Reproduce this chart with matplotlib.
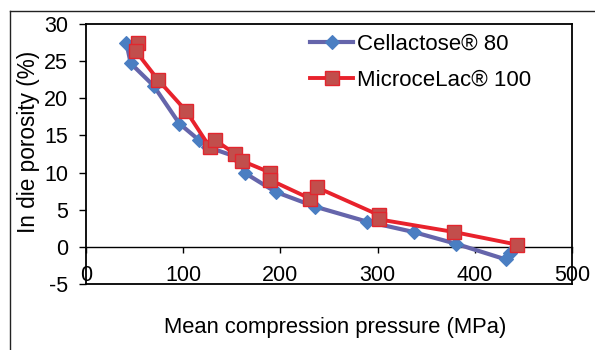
import matplotlib
matplotlib.use("Agg")
import matplotlib.pyplot as plt
from matplotlib.lines import Line2D

plt.rcParams['font.family'] = ['Liberation Sans', 'DejaVu Sans']

# Data
cell_x = [41.5, 46, 69.5, 96, 116, 126, 155, 164, 195, 236, 289, 337, 381, 432, 436]
cell_y = [27.5, 24.7, 21.7, 16.6, 14.4, 13.4, 12.1, 9.9, 7.4, 5.4, 3.4, 2.0, 0.4, -1.7, -0.8]
micro_x = [53.5, 51.5, 74, 103, 127.5, 132.5, 153.5, 160, 189.5, 189.5, 230.5, 237.5, 301, 301.5, 378.5, 443.5]
micro_y = [27.5, 26.3, 22.5, 18.3, 13.4, 14.4, 12.5, 11.6, 10.0, 9.0, 6.5, 8.0, 4.3, 3.7, 2.0, 0.3]
series_names = ["Cellactose\u00ae 80", "MicroceLac\u00ae 100"]
xticks = [0, 100, 200, 300, 400, 500]
yticks = [-5, 0, 5, 10, 15, 20, 25, 30]

fig = plt.figure(figsize=(5.95, 3.5), dpi=100)
ax = fig.add_axes([86/595, 1-284/350, (572-86)/595, (284-24)/350])

ax.plot(cell_x, cell_y, color='#6565AB', lw=3.0, marker='D', ms=7,
        mfc='#4A7EC2', mec='#4A7EC2', mew=0.8, label=series_names[0], zorder=3)
ax.plot(micro_x, micro_y, color='#E8222C', lw=2.8, marker='s', ms=10,
        mfc='#C24E4C', mec='#E2262E', mew=1.0, label=series_names[1], zorder=4)

ax.set_xlim(0, 500)
ax.set_ylim(-5, 30)
ax.set_yticks(yticks)
ax.set_yticklabels([str(t) for t in yticks])
ax.tick_params(axis='y', direction='out', length=5, width=1, pad=8, labelsize=15.5)
ax.tick_params(axis='x', bottom=False, labelbottom=False)
for s in ax.spines.values():
    s.set_linewidth(1.3)
    s.set_color('black')

sec = ax.secondary_xaxis(5/35)
sec.set_xticks(xticks)
sec.set_xticklabels([str(t) for t in xticks])
sec.tick_params(direction='out', length=4, width=1, pad=9, labelsize=15.5)
sec.spines['bottom'].set_linewidth(1.0)

ax.set_xlabel("Mean compression pressure (MPa)", fontsize=15.8, va='center')
ax.xaxis.set_label_coords((335-86)/486, (284-328)/260)
ax.set_ylabel("In die porosity (%)", fontsize=16.3, va='center')
ax.yaxis.set_label_coords((28-86)/486, (284-142)/260)

leg = ax.legend(loc='upper left', bbox_to_anchor=(306/595, 1-29/350),
                bbox_transform=fig.transFigure, frameon=False, fontsize=16,
                handlelength=1.9, handletextpad=0.2, labelspacing=0.7,
                borderaxespad=0, borderpad=0.2)

# outer chart frame (partially cropped)
fig.add_artist(Line2D([10/595, 1], [1-11/350, 1-11/350], color='#222222', lw=1.0))
fig.add_artist(Line2D([10/595, 10/595], [0, 1-11/350], color='#222222', lw=1.0))

fig.savefig("out.png", dpi=100)
